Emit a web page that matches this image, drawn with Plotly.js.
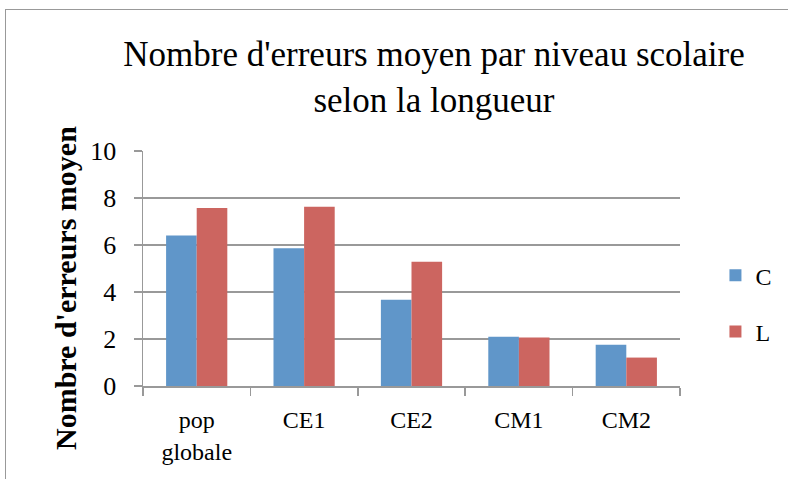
<!DOCTYPE html>
<html>
<head>
<meta charset="utf-8">
<script src="https://cdn.plot.ly/plotly-3.0.1.min.js"></script>
<style>
html,body{margin:0;padding:0;background:#fff;overflow:hidden;width:788px;height:479px;}
#frame{position:absolute;left:5px;top:9px;width:783px;height:470px;border-top:1px solid #999;border-left:1px solid #999;box-sizing:border-box;}
#chart{position:absolute;left:0;top:0;width:788px;height:479px;}
</style>
</head>
<body>
<div id="frame"></div>
<div id="chart"></div>
<script>
const categories = ["pop<br>globale", "CE1", "CE2", "CM1", "CM2"];
const seriesC = [6.40, 5.86, 3.67, 2.10, 1.76];
const seriesL = [7.57, 7.63, 5.29, 2.06, 1.21];
const yTicks = [0, 2, 4, 6, 8, 10];

const serif = "Liberation Serif, DejaVu Serif, serif";

const traces = [
  {type: "bar", name: "C", x: categories, y: seriesC, marker: {color: "#6096C9"}, legendgroup: "c"},
  {type: "bar", name: "L", x: categories, y: seriesL, marker: {color: "#CC6560"}, legendgroup: "l"}
];

const layout = {
  width: 788, height: 479,
  margin: {l: 143, r: 108, t: 151, b: 93, autoexpand: false},
  paper_bgcolor: "rgba(0,0,0,0)",
  plot_bgcolor: "rgba(0,0,0,0)",
  font: {family: serif, color: "#000", size: 24},
  title: {
    text: "Nombre d'erreurs moyen par niveau scolaire<br>selon la longueur",
    font: {family: serif, size: 35, color: "#000"},
    xref: "paper", x: (434 - 143) / 537, xanchor: "center",
    yref: "container", y: 1 - 66 / 479, yanchor: "middle"
  },
  barmode: "group",
  bargap: 0.43,
  bargroupgap: 0,
  xaxis: {
    type: "category",
    showline: true, linecolor: "#999", linewidth: 1.5,
    ticks: "outside", tickson: "boundaries", ticklen: 8, tickcolor: "#999", tickwidth: 1.5,
    tickfont: {family: serif, size: 24},
    ticklabelstandoff: 12,
    showgrid: false
  },
  yaxis: {
    range: [0, 10], tickvals: yTicks, ticktext: yTicks.map(String),
    showline: true, linecolor: "#999", linewidth: 1.5,
    ticks: "outside", ticklen: 8, tickcolor: "#999", tickwidth: 1.5,
    showgrid: true, gridcolor: "#999", gridwidth: 1.5,
    zeroline: false,
    tickfont: {family: serif, size: 26},
    ticklabelstandoff: 12
  },
  annotations: [{
    text: "<b>Nombre d'erreurs moyen</b>",
    xref: "paper", yref: "paper",
    x: (65 - 143) / 537, y: (386 - 288) / 235,
    xanchor: "center", yanchor: "middle",
    textangle: -90, showarrow: false,
    font: {family: serif, size: 30, color: "#000"}
  }],
  legend: {
    x: 1.066, xanchor: "left", y: 0.565, yanchor: "top",
    font: {family: serif, size: 24},
    traceorder: "grouped", tracegroupgap: 22,
    bgcolor: "rgba(0,0,0,0)"
  },
  showlegend: true
};

Plotly.newPlot("chart", traces, layout, {displayModeBar: false, staticPlot: true});
</script>
</body>
</html>
